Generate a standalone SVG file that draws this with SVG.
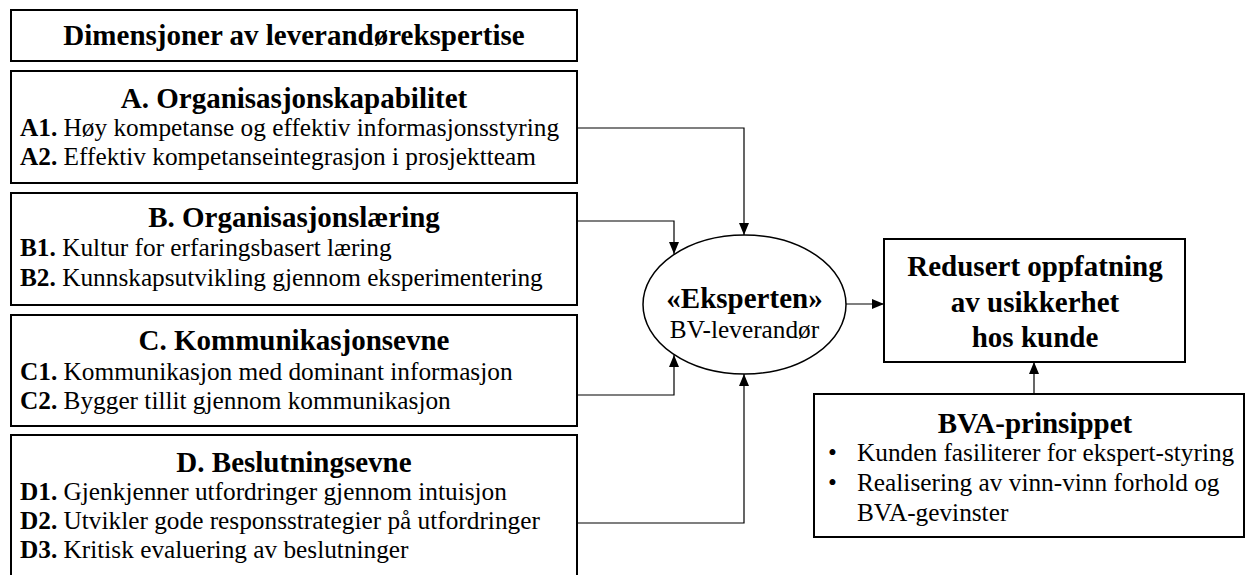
<svg xmlns="http://www.w3.org/2000/svg" width="1248" height="575" viewBox="0 0 1248 575">
<style>
.box{fill:#fff;stroke:#000;stroke-width:2}
.t{font-family:"Liberation Serif","Times New Roman",serif;fill:#000}
.h{font-size:29px;font-weight:bold;text-anchor:middle}
.b{font-size:25.3px}
.c{stroke:#000;stroke-width:1.2;fill:none}
</style>
<defs>
<marker id="ah" viewBox="0 0 12 10" refX="12" refY="5" markerWidth="12" markerHeight="10" markerUnits="userSpaceOnUse" orient="auto">
<path d="M0,0 L12,5 L0,10 Z" fill="#000"/>
</marker>
</defs>
<rect width="1248" height="575" fill="#fff"/>
<g id="title">
<rect class="box" x="11" y="10" width="566" height="51"/>
<text class="t h" x="294" y="45">Dimensjoner av leverandørekspertise</text>
</g>
<g id="nodeA">
<rect class="box" x="11" y="71" width="566" height="112"/>
<text class="t h" x="294" y="108">A. Organisasjonskapabilitet</text>
<text class="t b" x="20" y="136"><tspan font-weight="bold">A1.</tspan> Høy kompetanse og effektiv informasjonsstyring</text>
<text class="t b" x="20" y="165"><tspan font-weight="bold">A2.</tspan> Effektiv kompetanseintegrasjon i prosjektteam</text>
</g>
<g id="nodeB">
<rect class="box" x="11" y="193" width="566" height="112"/>
<text class="t h" x="294" y="227">B. Organisasjonslæring</text>
<text class="t b" x="20" y="256"><tspan font-weight="bold">B1.</tspan> Kultur for erfaringsbasert læring</text>
<text class="t b" x="20" y="286"><tspan font-weight="bold">B2.</tspan> Kunnskapsutvikling gjennom eksperimentering</text>
</g>
<g id="nodeC">
<rect class="box" x="11" y="315" width="566" height="111"/>
<text class="t h" x="294" y="350">C. Kommunikasjonsevne</text>
<text class="t b" x="20" y="380"><tspan font-weight="bold">C1.</tspan> Kommunikasjon med dominant informasjon</text>
<text class="t b" x="20" y="409"><tspan font-weight="bold">C2.</tspan> Bygger tillit gjennom kommunikasjon</text>
</g>
<g id="nodeD">
<rect class="box" x="11" y="435" width="566" height="150"/>
<text class="t h" x="294" y="472">D. Beslutningsevne</text>
<text class="t b" x="20" y="500"><tspan font-weight="bold">D1.</tspan> Gjenkjenner utfordringer gjennom intuisjon</text>
<text class="t b" x="20" y="529"><tspan font-weight="bold">D2.</tspan> Utvikler gode responsstrategier på utfordringer</text>
<text class="t b" x="20" y="558"><tspan font-weight="bold">D3.</tspan> Kritisk evaluering av beslutninger</text>
</g>
<g id="expert">
<ellipse cx="744.5" cy="304.5" rx="101.5" ry="69.5" fill="#fff" stroke="#000" stroke-width="1.5"/>
<text class="t h" x="744.5" y="308">«Eksperten»</text>
<text class="t b" x="744.5" y="338" text-anchor="middle">BV-leverandør</text>
</g>
<g id="outcome">
<rect class="box" x="884" y="239" width="301" height="123"/>
<text class="t h" x="1035" y="276">Redusert oppfatning</text>
<text class="t h" x="1035" y="312">av usikkerhet</text>
<text class="t h" x="1035" y="347">hos kunde</text>
</g>
<g id="bva">
<rect class="box" x="814" y="394" width="430" height="143"/>
<text class="t h" x="1035" y="433">BVA-prinsippet</text>
<text class="t b" x="828" y="461">•</text>
<text class="t b" x="857" y="461">Kunden fasiliterer for ekspert-styring</text>
<text class="t b" x="828" y="491">•</text>
<text class="t b" x="857" y="491">Realisering av vinn-vinn forhold og</text>
<text class="t b" x="857" y="521">BVA-gevinster</text>
</g>
<g id="connectors">
<path class="c" d="M577,128 H744 V235" marker-end="url(#ah)"/>
<path class="c" d="M577,221 H674 V254" marker-end="url(#ah)"/>
<path class="c" d="M577,395 H674 V355" marker-end="url(#ah)"/>
<path class="c" d="M577,523 H744 V374" marker-end="url(#ah)"/>
<path class="c" d="M846,304 H884" marker-end="url(#ah)"/>
<path class="c" d="M1034,394 V362" marker-end="url(#ah)"/>
</g>
</svg>
